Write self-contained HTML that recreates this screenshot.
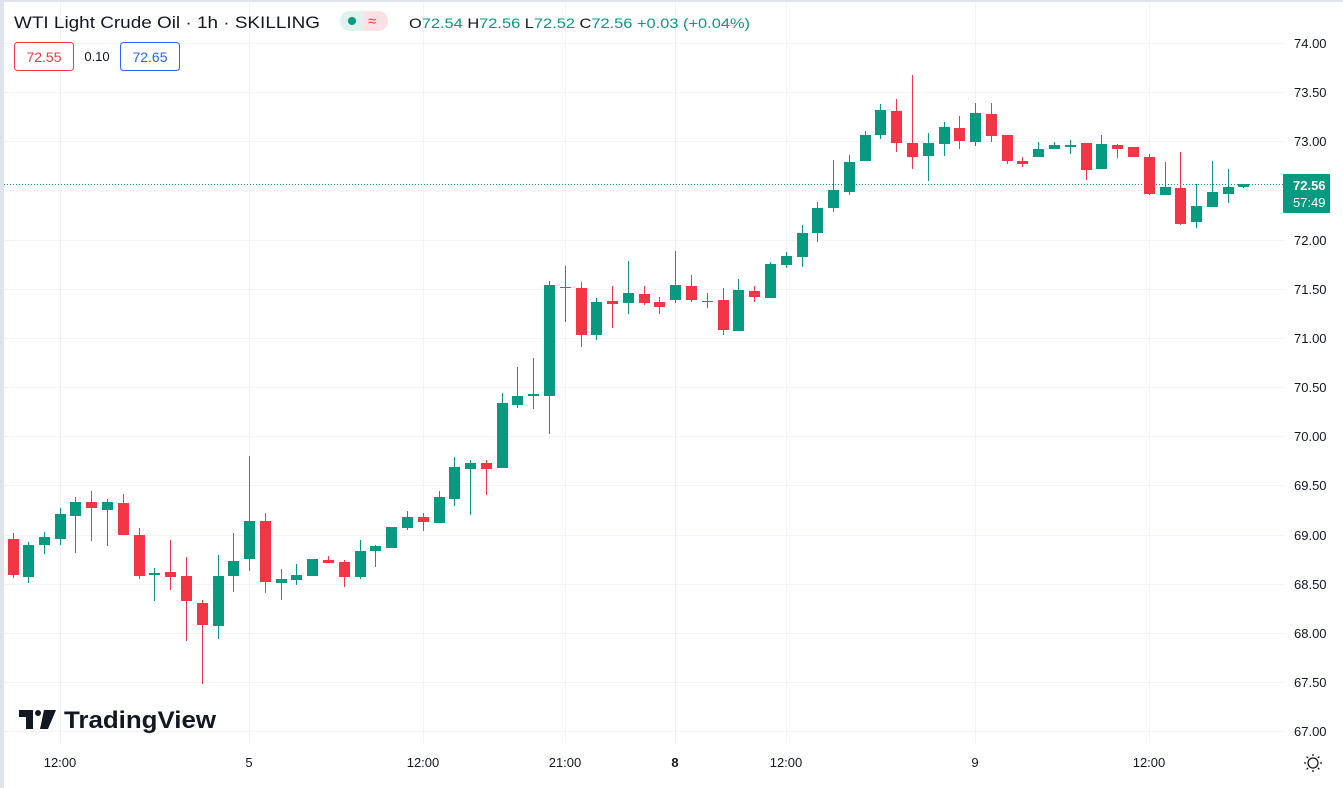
<!DOCTYPE html>
<html><head><meta charset="utf-8"><style>
body{margin:0;width:1343px;height:788px;overflow:hidden;background:#fff;font-family:"Liberation Sans",sans-serif}
svg{display:block}
</style></head><body>
<svg width="1343" height="788" xmlns="http://www.w3.org/2000/svg" font-family="Liberation Sans, sans-serif">
<rect x="0" y="0" width="1343" height="788" fill="#fff"/>
<rect x="0" y="0" width="4" height="788" fill="#e0e3eb"/>
<rect x="0" y="0" width="1343" height="2" fill="#e0e3eb"/>
<g stroke="#f0f3fa" stroke-width="1">
<line x1="4" x2="1283" y1="43.5" y2="43.5"/><line x1="4" x2="1283" y1="92.5" y2="92.5"/><line x1="4" x2="1283" y1="141.5" y2="141.5"/><line x1="4" x2="1283" y1="190.5" y2="190.5"/><line x1="4" x2="1283" y1="240.5" y2="240.5"/><line x1="4" x2="1283" y1="289.5" y2="289.5"/><line x1="4" x2="1283" y1="338.5" y2="338.5"/><line x1="4" x2="1283" y1="387.5" y2="387.5"/><line x1="4" x2="1283" y1="436.5" y2="436.5"/><line x1="4" x2="1283" y1="485.5" y2="485.5"/><line x1="4" x2="1283" y1="535.5" y2="535.5"/><line x1="4" x2="1283" y1="584.5" y2="584.5"/><line x1="4" x2="1283" y1="633.5" y2="633.5"/><line x1="4" x2="1283" y1="682.5" y2="682.5"/><line x1="4" x2="1283" y1="731.5" y2="731.5"/>
<line y1="2" y2="744" x1="60.5" x2="60.5"/><line y1="2" y2="744" x1="249.5" x2="249.5"/><line y1="2" y2="744" x1="423.5" x2="423.5"/><line y1="2" y2="744" x1="565.5" x2="565.5"/><line y1="2" y2="744" x1="675.5" x2="675.5"/><line y1="2" y2="744" x1="786.5" x2="786.5"/><line y1="2" y2="744" x1="975.5" x2="975.5"/><line y1="2" y2="744" x1="1149.5" x2="1149.5"/>
</g>
<line x1="4" x2="1283" y1="184.5" y2="184.5" stroke="#089981" stroke-width="1" stroke-dasharray="1,2"/>
<g id="c"></g>
<g font-size="13" fill="#131722">
<text x="1294" y="48">74.00</text><text x="1294" y="97">73.50</text><text x="1294" y="146">73.00</text><text x="1294" y="245">72.00</text><text x="1294" y="294">71.50</text><text x="1294" y="343">71.00</text><text x="1294" y="392">70.50</text><text x="1294" y="441">70.00</text><text x="1294" y="490">69.50</text><text x="1294" y="540">69.00</text><text x="1294" y="589">68.50</text><text x="1294" y="638">68.00</text><text x="1294" y="687">67.50</text><text x="1294" y="736">67.00</text>
</g>
<rect x="1283" y="174" width="47" height="39" fill="#089981" rx="1"/>
<text x="1293" y="190" font-size="13" fill="#fff" font-weight="bold">72.56</text>
<text x="1293" y="207" font-size="13" fill="#fff">57:49</text>
<g font-size="13" fill="#131722" text-anchor="middle">
<text x="60" y="767">12:00</text><text x="249" y="767">5</text><text x="423" y="767">12:00</text><text x="565" y="767">21:00</text><text x="675" y="767" font-weight="bold">8</text><text x="786" y="767">12:00</text><text x="975" y="767">9</text><text x="1149" y="767">12:00</text>
</g>
<g transform="translate(1313,763)" fill="none" stroke="#131722" stroke-width="1.3"><circle r="5"/><path d="M0,-9v2M0,7v2M-9,0h2M7,0h2M-6.4,-6.4l1.4,1.4M5,5l1.4,1.4M-6.4,6.4l1.4,-1.4M5,-5l1.4,-1.4"/></g>
<text x="14" y="28" font-size="17" fill="#131722" textLength="306" lengthAdjust="spacingAndGlyphs">WTI Light Crude Oil · 1h · SKILLING</text>
<path d="M340,21a10,10 0 0 1 10,-10h14v20h-14a10,10 0 0 1 -10,-10z" fill="#dff2ee"/>
<path d="M364,11h14a10,10 0 0 1 0,20h-14z" fill="#fce0e6"/>
<circle cx="352" cy="21" r="4" fill="#089981"/>
<text x="368" y="26" font-size="15" fill="#f23645">≈</text>
<text x="409" y="28" font-size="14" fill="#131722" textLength="341" lengthAdjust="spacingAndGlyphs">O<tspan fill="#089981">72.54</tspan> H<tspan fill="#089981">72.56</tspan> L<tspan fill="#089981">72.52</tspan> C<tspan fill="#089981">72.56</tspan> <tspan fill="#089981">+0.03 (+0.04%)</tspan></text>
<rect x="14.5" y="42.5" width="59" height="28" rx="3" fill="#fff" stroke="#f23645"/>
<text x="44" y="62" font-size="14" fill="#f23645" text-anchor="middle">72.55</text>
<text x="97" y="61" font-size="13" fill="#131722" text-anchor="middle">0.10</text>
<rect x="120.5" y="42.5" width="59" height="28" rx="3" fill="#fff" stroke="#2962ff"/>
<text x="150" y="62" font-size="14" fill="#2962ff" text-anchor="middle">72.65</text>
<g fill="#131722"><path d="M19,710h14v19h-7v-12h-7z"/><circle cx="38" cy="713" r="3"/><path d="M44,710h12l-8,19h-8z"/></g>
<text x="64" y="728" font-size="24" font-weight="bold" fill="#131722" textLength="152" lengthAdjust="spacingAndGlyphs">TradingView</text>
</svg>
<script>
var d=[
[12.5,539,575,533,578,0],[28,545,577,542,583,1],[44,537,545,532,554,1],[60,514,539,508,545,1],[75,502,516,497,553,1],[91,502,508,491,541,0],[107,502,510,499,546,1],[123,503,535,494,535,0],[139,535,576,528,579,0],[154,573,575,568,601,1],[170,572,577,540,590,0],[186,576,601,557,641,0],[202,603,625,600,684,0],[218,576,626,555,639,1],[233,561,576,533,592,1],[249,521,559,456,571,1],[265,521,582,513,593,0],[281,579,583,569,600,1],[296,575,580,564,585,1],[312,559,576,559,576,1],[328,560,563,556,563,0],[344,562,577,560,587,0],[360,551,577,540,579,1],[375,546,551,545,567,1],[391,527,548,527,548,1],[407,517,528,511,530,1],
[423,517,522,513,531,0],[439,497,523,491,523,1],[454,467,499,457,506,1],[470,463,469,460,515,1],[486,463,469,460,495,0],[502,403,468,393,468,1],[517,396,405,367,408,1],[533,394,396,358,409,1],[549,285,396,281,434,1],[565,287,288,266,322,1],[581,288,335,282,347,0],[596,302,335,298,340,1],[612,301,304,286,328,0],[628,293,303,261,314,1],[644,294,303,286,305,0],[659,302,307,297,314,0],[675,285,300,251,303,1],[691,286,300,275,302,0],[707,301,302,293,308,1],[723,300,330,288,335,0],[738,290,331,279,331,1],[754,291,297,286,302,0],[770,264,298,262,298,1],[786,256,265,252,268,1],
[802,233,257,225,267,1],[817,208,233,202,242,1],[833,190,208,160,212,1],[849,162,192,155,195,1],[865,135,161,131,161,1],[880,110,135,104,139,1],[896,111,143,99,152,0],[912,143,157,75,169,0],[928,143,156,133,181,1],[944,127,144,122,156,1],[959,128,141,116,149,0],[975,113,142,103,146,1],[991,114,136,103,142,0],[1007,135,161,135,164,0],[1022,161,164,157,167,0],[1038,149,157,142,157,1],[1054,145,149,142,149,1],[1070,145,147,140,154,1],[1086,143,170,143,180,0],[1101,144,169,135,169,1],[1117,145,149,144,158,0],[1133,147,157,147,157,0],[1149,157,194,154,195,0],[1165,187,195,162,195,1],[1180,188,224,152,225,0],[1196,206,222,184,228,1],[1212,192,207,161,207,1],[1228,187,194,169,203,1],[1243,184,187,184,188,1]];
var s='';d.forEach(function(c){var col=c[5]?'#089981':'#f23645';var x=Math.round(c[0]);
s+='<rect x="'+x+'" y="'+c[3]+'" width="1" height="'+(c[4]-c[3])+'" fill="'+col+'"/>';
s+='<rect x="'+(x-5)+'" y="'+c[1]+'" width="11" height="'+Math.max(1,c[2]-c[1])+'" fill="'+col+'"/>';});
document.getElementById('c').innerHTML=s;
</script>
</body></html>
